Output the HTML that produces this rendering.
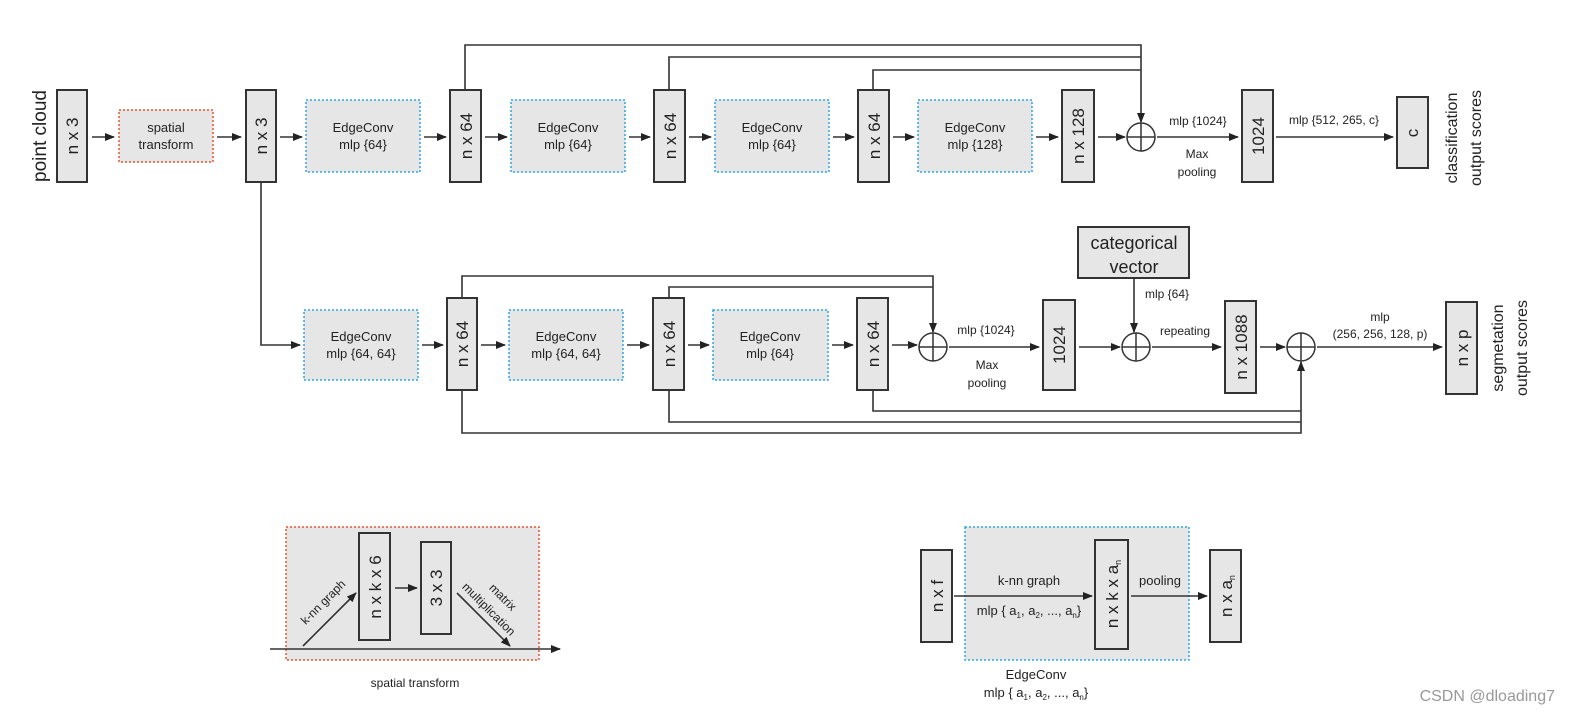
<!DOCTYPE html>
<html><head><meta charset="utf-8"><style>
body{margin:0;background:#fff}
svg{display:block;font-family:"Liberation Sans",sans-serif}
</style></head><body>
<svg width="1574" height="718" viewBox="0 0 1574 718" xmlns="http://www.w3.org/2000/svg">
<defs>
<marker id="a" markerWidth="10" markerHeight="8" refX="9" refY="4" orient="auto" markerUnits="userSpaceOnUse"><path d="M0,0 L10,4 L0,8 z" fill="#222"/></marker>
</defs>
<g stroke="#333" stroke-width="2" fill="#e6e6e6">
<!-- top row boxes -->
<rect x="57" y="90" width="30" height="92"/>
<rect x="246" y="90" width="30" height="92"/>
<rect x="450" y="90" width="31" height="92"/>
<rect x="654" y="90" width="31" height="92"/>
<rect x="858" y="90" width="31" height="92"/>
<rect x="1062" y="90" width="32" height="92"/>
<rect x="1242" y="90" width="31" height="92"/>
<rect x="1397" y="97" width="31" height="71"/>
<!-- bottom row -->
<rect x="447" y="298" width="30" height="92"/>
<rect x="653" y="298" width="31" height="92"/>
<rect x="857" y="298" width="31" height="92"/>
<rect x="1043" y="300" width="32" height="90"/>
<rect x="1078" y="227" width="111" height="51"/>
<rect x="1225" y="301" width="31" height="92"/>
<rect x="1446" y="302" width="31" height="92"/>
</g>
<g stroke-width="1.5" stroke-dasharray="2,2" fill="#e6e6e6">
<rect x="119" y="110" width="94" height="52" stroke="#e8552d"/>
<rect x="306" y="100" width="114" height="72" stroke="#2aa7e0"/>
<rect x="511" y="100" width="114" height="72" stroke="#2aa7e0"/>
<rect x="715" y="100" width="114" height="72" stroke="#2aa7e0"/>
<rect x="918" y="100" width="114" height="72" stroke="#2aa7e0"/>
<rect x="304" y="310" width="114" height="70" stroke="#2aa7e0"/>
<rect x="509" y="310" width="114" height="70" stroke="#2aa7e0"/>
<rect x="713" y="310" width="115" height="70" stroke="#2aa7e0"/>
<rect x="286" y="527" width="253" height="133" stroke="#e8552d"/>
<rect x="965" y="527" width="224" height="133" stroke="#2aa7e0"/>
</g>
<g stroke="#333" stroke-width="2" fill="#e6e6e6">
<rect x="359" y="533" width="31" height="107"/>
<rect x="421" y="542" width="30" height="92"/>
<rect x="921" y="550" width="31" height="92"/>
<rect x="1095" y="540" width="33" height="109"/>
<rect x="1210" y="550" width="31" height="92"/>
</g>
<!-- circles -->
<g stroke="#333" stroke-width="1.5" fill="#fff">
<circle cx="1141" cy="137" r="14"/><path d="M1127,137h28M1141,123v28"/>
<circle cx="933" cy="347" r="14"/><path d="M919,347h28M933,333v28"/>
<circle cx="1136" cy="347" r="14"/><path d="M1122,347h28M1136,333v28"/>
<circle cx="1301" cy="347" r="14"/><path d="M1287,347h28M1301,333v28"/>
</g>
<!-- arrows -->
<g stroke="#333" stroke-width="1.6" fill="none" marker-end="url(#a)">
<path d="M92,137h22"/><path d="M217,137h24"/><path d="M280,137h22"/><path d="M424,137h22"/>
<path d="M485,137h22"/><path d="M629,137h21"/><path d="M689,137h22"/><path d="M833,137h21"/>
<path d="M893,137h21"/><path d="M1036,137h22"/><path d="M1098,137h27"/><path d="M1157,137h81"/>
<path d="M1276,137h117"/>
<path d="M465,90V45H1141V122"/>
<path d="M669,90V57H1141" marker-end="none"/>
<path d="M873,90V70H1141" marker-end="none"/>
<path d="M261,182V345H300"/>
<path d="M422,345h21"/><path d="M481,345h24"/><path d="M627,345h22"/><path d="M688,345h21"/>
<path d="M832,345h21"/><path d="M892,345h25"/><path d="M949,347h90"/><path d="M1079,347h41"/>
<path d="M1152,347h69"/><path d="M1260,347h25"/><path d="M1317,347h125"/>
<path d="M1134,278v54"/>
<path d="M462,298V276H933V332"/>
<path d="M669,298V287H933" marker-end="none"/>
<path d="M462,390V433H1301V362"/>
<path d="M669,390V422H1301" marker-end="none"/>
<path d="M873,390V411H1301" marker-end="none"/>
<path d="M270,649H560"/><path d="M303,646L356,593"/><path d="M395,588h22"/><path d="M457,593L510,646"/>
<path d="M954,596H1092"/><path d="M1131,596H1207"/>
</g>
<!-- text -->
<g fill="#222" font-size="13" text-anchor="middle">
<text x="166" y="132">spatial</text><text x="166" y="149">transform</text>
<text x="363" y="132">EdgeConv</text><text x="363" y="149">mlp {64}</text>
<text x="568" y="132">EdgeConv</text><text x="568" y="149">mlp {64}</text>
<text x="772" y="132">EdgeConv</text><text x="772" y="149">mlp {64}</text>
<text x="975" y="132">EdgeConv</text><text x="975" y="149">mlp {128}</text>
<text x="361" y="341">EdgeConv</text><text x="361" y="358">mlp {64, 64}</text>
<text x="566" y="341">EdgeConv</text><text x="566" y="358">mlp {64, 64}</text>
<text x="770" y="341">EdgeConv</text><text x="770" y="358">mlp {64}</text>
<text x="1198" y="125" font-size="12">mlp {1024}</text>
<text x="1197" y="158" font-size="12">Max</text><text x="1197" y="176" font-size="12">pooling</text>
<text x="1334" y="124" font-size="12">mlp {512, 265, c}</text>
<text x="986" y="334" font-size="12">mlp {1024}</text>
<text x="987" y="369" font-size="12">Max</text><text x="987" y="387" font-size="12">pooling</text>
<text x="1185" y="335" font-size="12">repeating</text>
<text x="1167" y="298" font-size="12">mlp {64}</text>
<text x="1380" y="321" font-size="12">mlp</text>
<text x="1380" y="338" font-size="12">(256, 256, 128, p)</text>
<text x="1134" y="249" font-size="18">categorical</text><text x="1134" y="273" font-size="18">vector</text>
<text x="415" y="687" font-size="12">spatial transform</text>
<text x="1029" y="585" font-size="13">k-nn graph</text>
<text x="1029" y="615" font-size="13">mlp { a<tspan font-size="8" dy="3">1</tspan><tspan dy="-3">, a</tspan><tspan font-size="8" dy="3">2</tspan><tspan dy="-3">, ..., a</tspan><tspan font-size="8" dy="3">n</tspan><tspan dy="-3">}</tspan></text>
<text x="1160" y="585" font-size="13">pooling</text>
<text x="1036" y="679" font-size="13">EdgeConv</text>
<text x="1036" y="697" font-size="13">mlp { a<tspan font-size="8" dy="3">1</tspan><tspan dy="-3">, a</tspan><tspan font-size="8" dy="3">2</tspan><tspan dy="-3">, ..., a</tspan><tspan font-size="8" dy="3">n</tspan><tspan dy="-3">}</tspan></text>
</g>
<g fill="#222" font-size="17" text-anchor="middle">
<text transform="translate(78,136) rotate(-90)">n x 3</text>
<text transform="translate(267,136) rotate(-90)">n x 3</text>
<text transform="translate(472,136) rotate(-90)">n x 64</text>
<text transform="translate(676,136) rotate(-90)">n x 64</text>
<text transform="translate(880,136) rotate(-90)">n x 64</text>
<text transform="translate(1084,136) rotate(-90)">n x 128</text>
<text transform="translate(1264,136) rotate(-90)">1024</text>
<text transform="translate(1418,133) rotate(-90)">c</text>
<text transform="translate(468,344) rotate(-90)">n x 64</text>
<text transform="translate(675,344) rotate(-90)">n x 64</text>
<text transform="translate(879,344) rotate(-90)">n x 64</text>
<text transform="translate(1065,345) rotate(-90)">1024</text>
<text transform="translate(1247,347) rotate(-90)">n x 1088</text>
<text transform="translate(1468,348) rotate(-90)">n x p</text>
<text transform="translate(381,587) rotate(-90)">n x k x 6</text>
<text transform="translate(442,588) rotate(-90)">3 x 3</text>
<text transform="translate(943,596) rotate(-90)">n x f</text>
<text transform="translate(1118,594) rotate(-90)">n x k x a<tspan font-size="9" dy="3">n</tspan></text>
<text transform="translate(1232,596) rotate(-90)">n x a<tspan font-size="9" dy="3">n</tspan></text>
<text transform="translate(46,136) rotate(-90)" font-size="19">point cloud</text>
<text transform="translate(1457,138) rotate(-90)" font-size="16">classification</text>
<text transform="translate(1481,138) rotate(-90)" font-size="16">output scores</text>
<text transform="translate(1503,348) rotate(-90)" font-size="16">segmetation</text>
<text transform="translate(1527,348) rotate(-90)" font-size="16">output scores</text>
<text transform="translate(326,605) rotate(-45)" font-size="12">k-nn graph</text>
<text transform="translate(500,600) rotate(45)" font-size="12">matrix</text>
<text transform="translate(486,612) rotate(45)" font-size="12">multiplication</text>
</g>
<text x="1555" y="701" font-size="16" fill="#999" text-anchor="end" font-family="Liberation Sans, Noto Sans CJK SC, sans-serif">CSDN @dloading7</text>
</svg>
</body></html>
